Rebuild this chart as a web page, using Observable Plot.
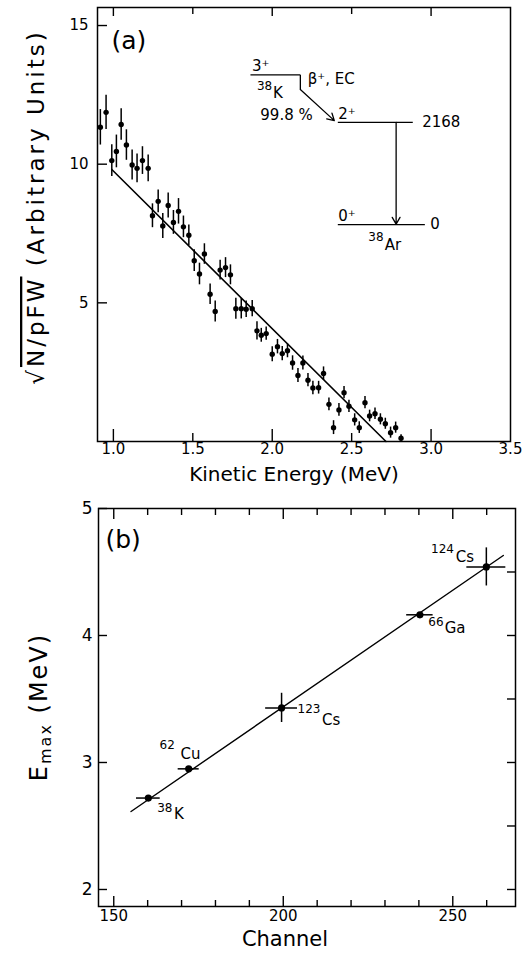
<!DOCTYPE html>
<html><head><meta charset="utf-8">
<script src="https://cdn.jsdelivr.net/npm/d3@7"></script>
<script src="https://cdn.jsdelivr.net/npm/@observablehq/plot@0.6"></script>
<style>
html,body{margin:0;padding:0;background:#fff;}
#chart{width:524px;height:959px;}
#chart svg{display:block;}
</style></head><body><div id="chart"></div>
<script>
// ---------- Panel (a): sqrt(N/pFW) vs kinetic energy ----------
const energyA = [0.918,0.954,0.99,1.019,1.049,1.082,1.118,1.149,1.183,1.219,1.246,1.282,1.311,1.345,1.378,1.41,1.441,1.475,1.509,1.542,1.573,1.609,1.641,1.672,1.706,1.737,1.771,1.805,1.836,1.874,1.904,1.931,1.962,2.0,2.033,2.063,2.096,2.128,2.162,2.193,2.225,2.256,2.292,2.323,2.357,2.386,2.42,2.452,2.483,2.519,2.548,2.584,2.613,2.647,2.681,2.712,2.745,2.777,2.811];
const sqrtNA = [11.33,11.87,10.13,10.46,11.43,10.69,9.97,9.85,10.13,9.85,8.14,8.66,7.77,8.51,7.90,8.30,7.74,7.44,6.52,6.04,6.76,5.31,4.69,6.18,6.27,6.01,4.79,4.79,4.77,4.79,3.99,3.83,3.89,3.15,3.42,3.17,3.27,2.83,2.38,2.83,2.21,1.93,1.94,2.45,1.34,0.50,1.14,1.76,1.27,0.78,0.50,1.40,0.92,1.00,0.80,0.64,0.32,0.50,0.12];
const errA = [0.64,0.62,0.57,0.59,0.57,0.55,0.54,0.52,0.50,0.48,0.43,0.41,0.45,0.45,0.43,0.46,0.39,0.37,0.39,0.39,0.37,0.37,0.38,0.36,0.36,0.36,0.38,0.37,0.30,0.29,0.33,0.25,0.24,0.27,0.26,0.26,0.25,0.26,0.25,0.25,0.24,0.24,0.23,0.24,0.23,0.25,0.23,0.22,0.22,0.22,0.21,0.22,0.21,0.21,0.20,0.20,0.20,0.20,0.12];
const fitAx = [0.99, 2.716];
const fitAy = [9.81, 0];
const xTickLabelsA = [1.0, 1.5, 2.0, 2.5, 3.0, 3.5];
const xMajorA = [1.0, 2.0, 3.0];
const xMinorA = [1.5, 2.5];
const yTicksA = [5, 10, 15];

// decay scheme (inset of panel a), in panel-a data units
const levelY  = [13.22, 11.51, 7.82];
const levelX1 = [1.866, 2.416, 2.416];
const levelX2 = [2.181, 2.888, 2.964];
const schemeLabels = ["3⁺", "β⁺, EC", "99.8 %", "2⁺", "2168", "0⁺", "0", "K", "Ar"];
const schemeLabelX = [1.872, 2.223, 1.925, 2.416, 2.944, 2.416, 2.995, 2.005, 2.708];
const schemeLabelY = [13.55, 13.05, 11.75, 11.80, 11.51, 8.12, 7.82, 12.56, 7.08];
const schemeMass = ["38", "38"];
const schemeMassX = [1.904, 2.605];
const schemeMassY = [12.80, 7.36];

// ---------- Panel (b): Emax vs channel ----------
const channelB = [160.2, 172.1, 199.5, 240.3, 259.9];
const emaxB = [2.72, 2.95, 3.43, 4.163, 4.54];
const chErrB = [3.5, 3.1, 4.7, 3.9, 5.75];
const eErrB = [0.0, 0.0, 0.115, 0.0, 0.15];
const massB = ["38", "62", "123", "66", "124"];
const massXB = [162.8, 163.5, 204.2, 242.8, 243.6];
const massYB = [2.638, 3.134, 3.417, 4.105, 4.677];
const elemB = ["K", "Cu", "Cs", "Ga", "Cs"];
const elemXB = [167.8, 169.7, 211.4, 247.6, 250.9];
const elemYB = [2.59, 3.063, 3.33, 4.055, 4.614];
const fitBx = [155.1, 264.9];
const fitBy = [2.614, 4.63];
const xMajorB = [150, 200, 250];
const xMinorB = [160, 170, 180, 190, 210, 220, 230, 240, 260];
const yMajorB = [2, 3, 4, 5];
const yRightB = [2, 2.5, 3, 3.5, 4, 4.5];

const FONT = "DejaVu Sans, sans-serif";

// ---------- build panel a ----------
const ptsA = energyA.map((x, i) => ({x, y: sqrtNA[i], e: errA[i]}));
const fitA = fitAx.map((x, i) => ({x, y: fitAy[i]}));
const levels = levelY.map((y, i) => ({y, x1: levelX1[i], x2: levelX2[i]}));
const sLabels = schemeLabels.map((t, i) => ({t, x: schemeLabelX[i], y: schemeLabelY[i]}));
const sMass = schemeMass.map((t, i) => ({t, x: schemeMassX[i], y: schemeMassY[i]}));

const WA = 524, HA = 490, mLA = 97, mRA = 14, mTA = 7, mBA = 49;
const fwA = WA - mLA - mRA, fhA = HA - mTA - mBA;

const plotA = Plot.plot({
  width: WA, height: HA,
  marginLeft: mLA, marginRight: mRA, marginTop: mTA, marginBottom: mBA,
  style: {fontFamily: FONT, fontSize: "15px", color: "black", background: "white"},
  x: {domain: [0.9, 3.5], axis: null},
  y: {domain: [0, 15.65], axis: null},
  marks: [
    Plot.frame({stroke: "black", strokeWidth: 1.5}),
    Plot.ruleX(xMajorA, {x: d => d, insetTop: fhA - 12, strokeWidth: 1.4}),
    Plot.ruleX(xMinorA, {x: d => d, insetTop: fhA - 8, strokeWidth: 1.4}),
    Plot.ruleX(xMajorA, {x: d => d, insetBottom: fhA - 9, strokeWidth: 1.4}),
    Plot.ruleX(xMinorA, {x: d => d, insetBottom: fhA - 7, strokeWidth: 1.4}),
    Plot.ruleY(yTicksA, {y: d => d, insetRight: fwA - 10, strokeWidth: 1.4}),
    Plot.text(xTickLabelsA, {x: d => d, frameAnchor: "bottom", dy: 12, text: d => d3.format(".1f")(d), fontSize: 15, fill: "black"}),
    Plot.text(yTicksA, {y: d => d, frameAnchor: "left", dx: -9, textAnchor: "end", text: d => String(d), fontSize: 15, fill: "black"}),
    Plot.text(["Kinetic Energy (MeV)"], {frameAnchor: "bottom", dy: 39, dx: -10, fontSize: 20, fill: "black"}),
    Plot.text(["(a)"], {frameAnchor: "top-left", dx: 14, dy: 24, fontSize: 25, letterSpacing: 2, fill: "black"}),
    // data
    Plot.ruleX(ptsA, {x: "x", y1: d => d.y - d.e, y2: d => d.y + d.e, strokeWidth: 1.5}),
    Plot.dot(ptsA, {x: "x", y: "y", r: 2.7, fill: "black", stroke: "none"}),
    Plot.line(fitA, {x: "x", y: "y", strokeWidth: 1.6}),
    // decay scheme
    Plot.ruleY(levels, {y: "y", x1: "x1", x2: "x2", strokeWidth: 1.3}),
    Plot.link([{x1: 2.177, y1: 13.22, x2: 2.177, y2: 12.69}], {x1: "x1", y1: "y1", x2: "x2", y2: "y2", strokeWidth: 1.3}),
    Plot.arrow([{x1: 2.177, y1: 12.69, x2: 2.391, y2: 11.57}], {x1: "x1", y1: "y1", x2: "x2", y2: "y2", strokeWidth: 1.3, headLength: 9}),
    Plot.arrow([{x1: 2.78, y1: 11.51, x2: 2.78, y2: 7.84}], {x1: "x1", y1: "y1", x2: "x2", y2: "y2", strokeWidth: 1.3, headLength: 9}),
    Plot.text(sLabels, {x: "x", y: "y", text: "t", textAnchor: "start", fontSize: 15, fill: "black"}),
    Plot.text(sMass, {x: "x", y: "y", text: "t", textAnchor: "start", fontSize: 12, fill: "black"})
  ]
});

// y label with radical and overline
{
  const svg = d3.select(plotA);
  const t = svg.append("text")
    .attr("transform", "translate(37,207) rotate(-90)")
    .attr("text-anchor", "middle").attr("dominant-baseline", "middle")
    .attr("font-family", FONT).attr("font-size", 23).attr("letter-spacing", 3)
    .attr("fill", "black");
  t.append("tspan").text("√");
  t.append("tspan").style("text-decoration", "overline").text("N/pFW");
  t.append("tspan").text(" (Arbitrary Units)");
}

// ---------- build panel b ----------
const ptsB = channelB.map((x, i) => ({x, y: emaxB[i], ex: chErrB[i], ey: eErrB[i]}));
const fitB = fitBx.map((x, i) => ({x, y: fitBy[i]}));
const massLab = massB.map((t, i) => ({t, x: massXB[i], y: massYB[i]}));
const elemLab = elemB.map((t, i) => ({t, x: elemXB[i], y: elemYB[i]}));

const WB = 524, HB = 469, mLB = 98, mRB = 9, mTB = 18, mBB = 53;
const fwB = WB - mLB - mRB, fhB = HB - mTB - mBB;

const plotB = Plot.plot({
  width: WB, height: HB,
  marginLeft: mLB, marginRight: mRB, marginTop: mTB, marginBottom: mBB,
  style: {fontFamily: FONT, fontSize: "15px", color: "black", background: "white"},
  x: {domain: [145.5, 268.5], axis: null},
  y: {domain: [1.866, 5], axis: null},
  marks: [
    Plot.frame({stroke: "black", strokeWidth: 1.5}),
    Plot.ruleX(xMajorB, {x: d => d, insetTop: fhB - 10, strokeWidth: 1.4}),
    Plot.ruleX(xMinorB, {x: d => d, insetTop: fhB - 6, strokeWidth: 1.4}),
    Plot.ruleX(xMajorB, {x: d => d, insetBottom: fhB - 11, strokeWidth: 1.4}),
    Plot.ruleX(xMinorB, {x: d => d, insetBottom: fhB - 7, strokeWidth: 1.4}),
    Plot.ruleY(yMajorB, {y: d => d, insetRight: fwB - 9, strokeWidth: 1.4}),
    Plot.ruleY(yRightB, {y: d => d, insetLeft: fwB - 8, strokeWidth: 1.4}),
    Plot.text(xMajorB, {x: d => d, frameAnchor: "bottom", dy: 14, text: d => String(d), fontSize: 15, fill: "black"}),
    Plot.text(yMajorB, {y: d => d, frameAnchor: "left", dx: -6, textAnchor: "end", text: d => String(d), fontSize: 17, fill: "black"}),
    Plot.text(["Channel"], {frameAnchor: "bottom", dy: 39, dx: -22, fontSize: 21, fill: "black"}),
    Plot.text(["(b)"], {frameAnchor: "top-left", dx: 7, dy: 22, fontSize: 25, letterSpacing: 2, fill: "black"}),
    Plot.line(fitB, {x: "x", y: "y", strokeWidth: 1.4}),
    Plot.ruleY(ptsB, {y: "y", x1: d => d.x - d.ex, x2: d => d.x + d.ex, strokeWidth: 1.5}),
    Plot.ruleX(ptsB.filter(d => d.ey > 0), {x: "x", y1: d => d.y - d.ey, y2: d => d.y + d.ey, strokeWidth: 1.5}),
    Plot.dot(ptsB, {x: "x", y: "y", r: 3.6, fill: "black", stroke: "none"}),
    Plot.text(massLab, {x: "x", y: "y", text: "t", textAnchor: "start", fontSize: 12, fill: "black"}),
    Plot.text(elemLab, {x: "x", y: "y", text: "t", textAnchor: "start", fontSize: 15, fill: "black"})
  ]
});

{
  const svg = d3.select(plotB);
  const t = svg.append("text")
    .attr("transform", "translate(40,217) rotate(-90)")
    .attr("text-anchor", "middle").attr("dominant-baseline", "middle")
    .attr("font-family", FONT).attr("font-size", 24).attr("letter-spacing", 2)
    .attr("fill", "black");
  t.append("tspan").text("E");
  t.append("tspan").attr("font-size", 16).attr("dy", 6).text("max");
  t.append("tspan").attr("dy", -6).text(" (MeV)");
}

const chart = document.getElementById("chart");
chart.appendChild(plotA);
chart.appendChild(plotB);
</script></body></html>
